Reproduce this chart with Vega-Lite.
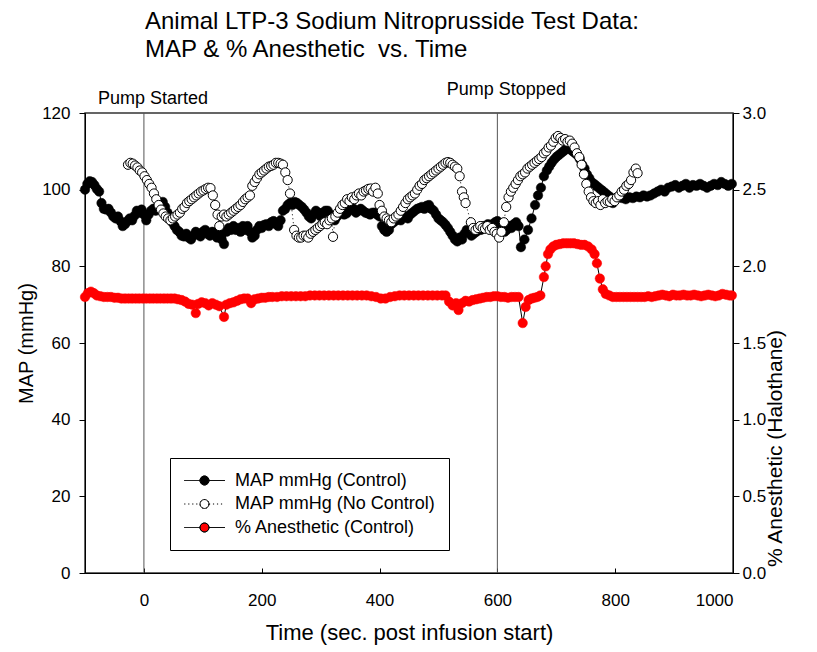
{
"$schema": "https://vega.github.io/schema/vega-lite/v6.json",
"width": 648, "height": 460,
"autosize": {"type": "none"},
"padding": {"left": 85, "top": 113, "right": 84, "bottom": 79},
"background": "white",
"title": {"text": ["Animal LTP-3 Sodium Nitroprusside Test Data:", "MAP & % Anesthetic\u00a0 vs. Time"], "anchor": "start", "frame": "group", "dx": 60, "offset": 19, "fontSize": 24, "font": "Liberation Sans", "fontWeight": "normal", "lineHeight": 28, "color": "black"},
"config": {
  "view": {"stroke": "#333", "strokeWidth": 1.5},
  "font": "Liberation Sans",
  "axis": {"labelFont": "Liberation Sans", "titleFont": "Liberation Sans", "labelFontSize": 17, "titleFontSize": 20, "titleFontWeight": "normal", "labelColor": "black", "titleColor": "black", "domainColor": "black", "tickColor": "black", "grid": false}
},
"datasets": {
"events": [{"t": 0, "v": 123.7, "label": "Pump Started"}, {"t": 600, "v": 126, "label": "Pump Stopped"}],
"legend": [{"series": "MAP mmHg (Control)"}, {"series": "MAP mmHg (No Control)"}, {"series": "% Anesthetic (Control)"}],
"ctrl": [
{"t":-100,"v":100.0},{"t":-96,"v":101.5},{"t":-92,"v":102.2},{"t":-88,"v":102.0},{"t":-84,"v":101.2},{"t":-80,"v":100.2},{"t":-76,"v":99.5},{"t":-72,"v":96.5},{"t":-68,"v":95.0},{"t":-64,"v":94.8},{"t":-60,"v":95.0},{"t":-56,"v":94.0},{"t":-52,"v":93.0},{"t":-48,"v":92.5},{"t":-44,"v":93.0},{"t":-40,"v":91.8},{"t":-36,"v":90.5},{"t":-32,"v":91.0},{"t":-28,"v":91.8},{"t":-24,"v":92.5},{"t":-20,"v":92.0},{"t":-16,"v":93.2},{"t":-12,"v":94.5},{"t":-8,"v":94.0},{"t":-4,"v":94.8},{"t":0,"v":93.5},{"t":4,"v":92.0},{"t":8,"v":93.5},{"t":12,"v":94.5},{"t":16,"v":95.0},{"t":20,"v":94.5},{"t":24,"v":95.5},{"t":28,"v":96.2},{"t":32,"v":96.8},{"t":36,"v":95.5},{"t":40,"v":94.0},{"t":44,"v":93.0},{"t":48,"v":91.5},{"t":52,"v":90.5},{"t":56,"v":89.5},{"t":60,"v":89.0},{"t":64,"v":88.0},{"t":68,"v":87.8},{"t":72,"v":88.5},{"t":76,"v":87.5},{"t":80,"v":87.0},{"t":84,"v":88.0},{"t":88,"v":89.0},{"t":92,"v":88.5},{"t":96,"v":87.8},{"t":100,"v":89.0},{"t":104,"v":89.5},{"t":108,"v":88.5},{"t":112,"v":88.0},{"t":116,"v":89.0},{"t":120,"v":88.8},{"t":124,"v":87.5},{"t":128,"v":88.5},{"t":132,"v":87.0},{"t":136,"v":85.8},{"t":140,"v":89.0},{"t":144,"v":90.0},{"t":148,"v":89.5},{"t":152,"v":90.5},{"t":156,"v":89.5},{"t":160,"v":90.0},{"t":164,"v":89.0},{"t":168,"v":90.5},{"t":172,"v":89.5},{"t":176,"v":90.5},{"t":180,"v":89.0},{"t":184,"v":87.5},{"t":188,"v":88.0},{"t":192,"v":89.5},{"t":196,"v":90.5},{"t":200,"v":90.0},{"t":204,"v":90.8},{"t":208,"v":91.0},{"t":212,"v":90.5},{"t":216,"v":91.5},{"t":220,"v":91.8},{"t":224,"v":91.0},{"t":228,"v":90.5},{"t":232,"v":92.0},{"t":236,"v":94.5},{"t":240,"v":95.0},{"t":244,"v":96.0},{"t":248,"v":96.5},{"t":252,"v":96.0},{"t":256,"v":96.8},{"t":260,"v":96.5},{"t":264,"v":96.0},{"t":268,"v":95.5},{"t":272,"v":94.8},{"t":276,"v":94.0},{"t":280,"v":93.0},{"t":284,"v":92.5},{"t":288,"v":93.5},{"t":292,"v":94.5},{"t":296,"v":94.0},{"t":300,"v":93.0},{"t":304,"v":94.0},{"t":308,"v":94.5},{"t":312,"v":94.5},{"t":316,"v":93.5},{"t":320,"v":92.5},{"t":324,"v":92.0},{"t":328,"v":93.0},{"t":332,"v":94.0},{"t":336,"v":94.5},{"t":340,"v":93.5},{"t":344,"v":93.8},{"t":348,"v":94.5},{"t":352,"v":95.0},{"t":356,"v":95.0},{"t":360,"v":94.0},{"t":364,"v":94.5},{"t":368,"v":95.0},{"t":372,"v":94.5},{"t":376,"v":94.0},{"t":380,"v":93.8},{"t":384,"v":93.5},{"t":388,"v":94.0},{"t":392,"v":94.0},{"t":396,"v":93.5},{"t":400,"v":93.0},{"t":404,"v":90.5},{"t":408,"v":89.5},{"t":412,"v":89.0},{"t":416,"v":89.5},{"t":420,"v":91.0},{"t":424,"v":91.5},{"t":428,"v":92.0},{"t":432,"v":92.5},{"t":436,"v":92.0},{"t":440,"v":93.0},{"t":444,"v":93.0},{"t":448,"v":92.5},{"t":452,"v":93.5},{"t":456,"v":94.0},{"t":460,"v":94.5},{"t":464,"v":95.0},{"t":468,"v":95.2},{"t":472,"v":95.5},{"t":476,"v":95.0},{"t":480,"v":95.8},{"t":484,"v":96.0},{"t":488,"v":95.0},{"t":492,"v":94.5},{"t":496,"v":93.5},{"t":500,"v":92.5},{"t":504,"v":92.0},{"t":508,"v":91.5},{"t":512,"v":90.8},{"t":516,"v":90.0},{"t":520,"v":89.0},{"t":524,"v":88.0},{"t":528,"v":87.0},{"t":532,"v":86.5},{"t":536,"v":87.5},{"t":540,"v":87.0},{"t":544,"v":88.5},{"t":548,"v":89.5},{"t":552,"v":89.0},{"t":556,"v":88.0},{"t":560,"v":88.5},{"t":564,"v":89.0},{"t":568,"v":90.0},{"t":572,"v":89.5},{"t":576,"v":90.5},{"t":580,"v":90.0},{"t":584,"v":91.0},{"t":588,"v":90.5},{"t":592,"v":91.0},{"t":596,"v":91.5},{"t":600,"v":91.8},{"t":604,"v":91.0},{"t":608,"v":90.0},{"t":612,"v":89.0},{"t":616,"v":89.5},{"t":620,"v":90.5},{"t":624,"v":90.0},{"t":628,"v":91.0},{"t":632,"v":91.5},{"t":636,"v":90.5},{"t":640,"v":85.0},{"t":646,"v":87.0},{"t":652,"v":89.5},{"t":658,"v":92.5},{"t":664,"v":96.0},{"t":669,"v":98.5},{"t":674,"v":100.5},{"t":679,"v":103.5},{"t":684,"v":105.0},{"t":688,"v":106.0},{"t":692,"v":107.0},{"t":696,"v":107.8},{"t":700,"v":108.5},{"t":704,"v":109.0},{"t":708,"v":109.5},{"t":712,"v":110.0},{"t":716,"v":110.5},{"t":720,"v":110.8},{"t":724,"v":110.5},{"t":728,"v":110.0},{"t":732,"v":109.5},{"t":736,"v":109.0},{"t":740,"v":108.0},{"t":744,"v":106.5},{"t":748,"v":105.5},{"t":752,"v":104.0},{"t":756,"v":103.0},{"t":760,"v":102.0},{"t":764,"v":101.5},{"t":768,"v":101.0},{"t":772,"v":100.5},{"t":776,"v":100.0},{"t":780,"v":99.5},{"t":784,"v":99.0},{"t":788,"v":98.5},{"t":792,"v":98.0},{"t":796,"v":96.5},{"t":800,"v":97.5},{"t":806,"v":98.0},{"t":812,"v":97.8},{"t":818,"v":97.5},{"t":824,"v":98.0},{"t":830,"v":97.8},{"t":836,"v":98.2},{"t":842,"v":98.0},{"t":848,"v":98.5},{"t":854,"v":98.2},{"t":860,"v":98.5},{"t":866,"v":99.0},{"t":872,"v":99.5},{"t":878,"v":100.0},{"t":884,"v":99.5},{"t":890,"v":100.5},{"t":896,"v":100.8},{"t":902,"v":101.2},{"t":908,"v":100.5},{"t":914,"v":101.0},{"t":920,"v":101.5},{"t":926,"v":100.5},{"t":932,"v":101.2},{"t":938,"v":101.0},{"t":944,"v":101.5},{"t":950,"v":101.0},{"t":956,"v":100.5},{"t":962,"v":101.0},{"t":968,"v":101.5},{"t":974,"v":101.2},{"t":980,"v":102.0},{"t":986,"v":101.5},{"t":992,"v":101.0},{"t":998,"v":101.5}
],
"noctrl": [
{"t":-27,"v":106.5},{"t":-23,"v":107.0},{"t":-19,"v":106.8},{"t":-15,"v":106.3},{"t":-11,"v":105.8},{"t":-7,"v":105.0},{"t":-3,"v":104.5},{"t":1,"v":103.5},{"t":5,"v":102.5},{"t":9,"v":101.5},{"t":13,"v":100.5},{"t":17,"v":99.0},{"t":21,"v":97.5},{"t":25,"v":96.0},{"t":29,"v":94.8},{"t":33,"v":93.8},{"t":37,"v":93.0},{"t":41,"v":92.5},{"t":45,"v":92.0},{"t":49,"v":92.5},{"t":53,"v":93.0},{"t":57,"v":93.5},{"t":61,"v":94.0},{"t":65,"v":95.0},{"t":69,"v":95.5},{"t":73,"v":96.5},{"t":77,"v":97.0},{"t":81,"v":97.5},{"t":85,"v":98.0},{"t":89,"v":98.5},{"t":93,"v":99.0},{"t":97,"v":99.5},{"t":101,"v":99.8},{"t":105,"v":100.2},{"t":109,"v":100.5},{"t":113,"v":100.4},{"t":117,"v":98.5},{"t":121,"v":96.0},{"t":125,"v":93.5},{"t":128,"v":90.5},{"t":132,"v":93.0},{"t":136,"v":93.5},{"t":140,"v":93.0},{"t":144,"v":93.5},{"t":148,"v":94.0},{"t":152,"v":94.5},{"t":156,"v":95.0},{"t":160,"v":95.5},{"t":164,"v":96.0},{"t":168,"v":96.8},{"t":172,"v":97.5},{"t":176,"v":98.0},{"t":180,"v":98.5},{"t":184,"v":101.0},{"t":188,"v":102.0},{"t":192,"v":103.0},{"t":196,"v":104.0},{"t":200,"v":104.5},{"t":204,"v":105.0},{"t":208,"v":105.5},{"t":212,"v":106.0},{"t":216,"v":106.2},{"t":220,"v":106.5},{"t":224,"v":107.0},{"t":228,"v":107.0},{"t":232,"v":106.8},{"t":236,"v":106.5},{"t":240,"v":104.5},{"t":244,"v":102.5},{"t":248,"v":99.0},{"t":255,"v":89.5},{"t":259,"v":88.0},{"t":263,"v":87.5},{"t":267,"v":87.5},{"t":271,"v":88.0},{"t":275,"v":88.0},{"t":279,"v":87.5},{"t":283,"v":88.5},{"t":287,"v":89.0},{"t":291,"v":89.5},{"t":295,"v":90.0},{"t":299,"v":90.5},{"t":303,"v":91.0},{"t":307,"v":91.5},{"t":311,"v":91.0},{"t":315,"v":92.0},{"t":319,"v":92.5},{"t":321,"v":87.7},{"t":325,"v":93.0},{"t":329,"v":94.0},{"t":333,"v":95.0},{"t":337,"v":96.0},{"t":341,"v":96.5},{"t":345,"v":97.5},{"t":349,"v":97.0},{"t":353,"v":98.0},{"t":357,"v":97.5},{"t":361,"v":98.5},{"t":365,"v":99.0},{"t":369,"v":98.5},{"t":373,"v":99.5},{"t":377,"v":99.8},{"t":381,"v":100.2},{"t":385,"v":100.3},{"t":389,"v":99.5},{"t":393,"v":100.5},{"t":397,"v":99.0},{"t":400,"v":96.0},{"t":404,"v":94.5},{"t":408,"v":93.0},{"t":412,"v":92.5},{"t":416,"v":92.0},{"t":420,"v":91.5},{"t":424,"v":92.5},{"t":428,"v":93.0},{"t":432,"v":93.5},{"t":436,"v":94.5},{"t":440,"v":95.5},{"t":444,"v":96.5},{"t":448,"v":97.5},{"t":452,"v":98.0},{"t":456,"v":98.5},{"t":460,"v":99.0},{"t":464,"v":100.0},{"t":468,"v":101.0},{"t":472,"v":101.5},{"t":476,"v":102.5},{"t":480,"v":103.0},{"t":484,"v":103.5},{"t":488,"v":104.0},{"t":492,"v":104.5},{"t":496,"v":105.0},{"t":500,"v":105.5},{"t":504,"v":106.0},{"t":508,"v":106.5},{"t":512,"v":107.0},{"t":516,"v":107.2},{"t":520,"v":107.0},{"t":524,"v":106.5},{"t":528,"v":106.0},{"t":532,"v":105.5},{"t":536,"v":103.5},{"t":540,"v":99.5},{"t":543,"v":98.0},{"t":546,"v":96.5},{"t":555,"v":91.5},{"t":559,"v":90.0},{"t":563,"v":89.5},{"t":567,"v":90.0},{"t":571,"v":90.5},{"t":575,"v":90.0},{"t":579,"v":89.8},{"t":583,"v":90.5},{"t":587,"v":89.5},{"t":591,"v":90.0},{"t":595,"v":89.0},{"t":599,"v":88.5},{"t":603,"v":87.5},{"t":607,"v":89.0},{"t":611,"v":91.5},{"t":615,"v":95.5},{"t":619,"v":98.0},{"t":623,"v":99.5},{"t":627,"v":100.5},{"t":631,"v":101.5},{"t":635,"v":102.5},{"t":639,"v":103.5},{"t":643,"v":104.0},{"t":647,"v":104.5},{"t":651,"v":105.5},{"t":655,"v":106.0},{"t":659,"v":106.5},{"t":663,"v":107.0},{"t":667,"v":107.5},{"t":671,"v":108.0},{"t":675,"v":108.5},{"t":679,"v":109.5},{"t":683,"v":110.0},{"t":687,"v":111.0},{"t":691,"v":111.5},{"t":695,"v":112.5},{"t":699,"v":113.5},{"t":703,"v":114.0},{"t":707,"v":113.5},{"t":711,"v":112.8},{"t":715,"v":113.2},{"t":719,"v":112.5},{"t":723,"v":112.8},{"t":727,"v":112.0},{"t":731,"v":111.0},{"t":735,"v":109.5},{"t":739,"v":108.5},{"t":743,"v":106.5},{"t":747,"v":104.0},{"t":751,"v":101.5},{"t":755,"v":99.5},{"t":759,"v":98.0},{"t":763,"v":97.0},{"t":767,"v":96.5},{"t":771,"v":97.0},{"t":775,"v":96.0},{"t":779,"v":97.5},{"t":783,"v":96.5},{"t":787,"v":97.0},{"t":791,"v":96.8},{"t":795,"v":97.5},{"t":799,"v":97.0},{"t":803,"v":98.0},{"t":807,"v":98.5},{"t":811,"v":99.5},{"t":815,"v":100.0},{"t":819,"v":101.0},{"t":823,"v":101.5},{"t":827,"v":102.5},{"t":831,"v":104.5},{"t":835,"v":105.5},{"t":838,"v":104.3}
],
"anes": [
{"t":-100,"v":1.80},{"t":-95,"v":1.825},{"t":-90,"v":1.835},{"t":-85,"v":1.825},{"t":-80,"v":1.81},{"t":-74,"v":1.805},{"t":-68,"v":1.80},{"t":-62,"v":1.80},{"t":-56,"v":1.80},{"t":-50,"v":1.795},{"t":-44,"v":1.795},{"t":-38,"v":1.79},{"t":-32,"v":1.79},{"t":-26,"v":1.79},{"t":-20,"v":1.79},{"t":-14,"v":1.79},{"t":-8,"v":1.79},{"t":-2,"v":1.79},{"t":4,"v":1.79},{"t":10,"v":1.79},{"t":16,"v":1.79},{"t":22,"v":1.79},{"t":28,"v":1.79},{"t":34,"v":1.79},{"t":40,"v":1.79},{"t":46,"v":1.79},{"t":52,"v":1.79},{"t":58,"v":1.785},{"t":64,"v":1.78},{"t":70,"v":1.77},{"t":76,"v":1.755},{"t":82,"v":1.75},{"t":88,"v":1.695},{"t":92,"v":1.755},{"t":98,"v":1.765},{"t":104,"v":1.76},{"t":110,"v":1.745},{"t":116,"v":1.76},{"t":122,"v":1.75},{"t":128,"v":1.74},{"t":136,"v":1.67},{"t":140,"v":1.75},{"t":146,"v":1.76},{"t":152,"v":1.765},{"t":158,"v":1.775},{"t":164,"v":1.785},{"t":170,"v":1.79},{"t":176,"v":1.79},{"t":182,"v":1.76},{"t":188,"v":1.785},{"t":194,"v":1.79},{"t":200,"v":1.795},{"t":206,"v":1.795},{"t":212,"v":1.80},{"t":218,"v":1.80},{"t":226,"v":1.80},{"t":234,"v":1.805},{"t":242,"v":1.805},{"t":250,"v":1.805},{"t":258,"v":1.805},{"t":266,"v":1.805},{"t":274,"v":1.805},{"t":282,"v":1.81},{"t":290,"v":1.81},{"t":298,"v":1.81},{"t":306,"v":1.81},{"t":314,"v":1.81},{"t":322,"v":1.81},{"t":330,"v":1.81},{"t":338,"v":1.81},{"t":346,"v":1.81},{"t":354,"v":1.81},{"t":362,"v":1.81},{"t":370,"v":1.81},{"t":378,"v":1.81},{"t":386,"v":1.805},{"t":394,"v":1.80},{"t":402,"v":1.79},{"t":410,"v":1.79},{"t":418,"v":1.80},{"t":426,"v":1.805},{"t":434,"v":1.81},{"t":442,"v":1.81},{"t":450,"v":1.81},{"t":458,"v":1.81},{"t":466,"v":1.81},{"t":474,"v":1.81},{"t":482,"v":1.81},{"t":490,"v":1.81},{"t":498,"v":1.81},{"t":506,"v":1.81},{"t":512,"v":1.81},{"t":518,"v":1.77},{"t":524,"v":1.745},{"t":530,"v":1.76},{"t":534,"v":1.715},{"t":540,"v":1.76},{"t":546,"v":1.775},{"t":552,"v":1.77},{"t":558,"v":1.78},{"t":564,"v":1.785},{"t":570,"v":1.79},{"t":576,"v":1.795},{"t":582,"v":1.80},{"t":588,"v":1.80},{"t":594,"v":1.805},{"t":600,"v":1.805},{"t":606,"v":1.80},{"t":612,"v":1.80},{"t":618,"v":1.795},{"t":624,"v":1.80},{"t":630,"v":1.80},{"t":636,"v":1.80},{"t":643,"v":1.63},{"t":648,"v":1.735},{"t":653,"v":1.78},{"t":658,"v":1.79},{"t":663,"v":1.795},{"t":668,"v":1.80},{"t":673,"v":1.81},{"t":679,"v":1.93},{"t":682,"v":2.00},{"t":686,"v":2.08},{"t":690,"v":2.11},{"t":695,"v":2.13},{"t":700,"v":2.14},{"t":706,"v":2.145},{"t":712,"v":2.15},{"t":718,"v":2.15},{"t":724,"v":2.15},{"t":730,"v":2.15},{"t":736,"v":2.145},{"t":742,"v":2.14},{"t":748,"v":2.14},{"t":754,"v":2.13},{"t":760,"v":2.11},{"t":765,"v":2.08},{"t":769,"v":2.02},{"t":774,"v":1.92},{"t":779,"v":1.85},{"t":784,"v":1.82},{"t":790,"v":1.81},{"t":796,"v":1.80},{"t":802,"v":1.80},{"t":808,"v":1.80},{"t":814,"v":1.80},{"t":820,"v":1.80},{"t":826,"v":1.80},{"t":832,"v":1.80},{"t":838,"v":1.80},{"t":844,"v":1.80},{"t":850,"v":1.80},{"t":856,"v":1.805},{"t":862,"v":1.80},{"t":868,"v":1.805},{"t":874,"v":1.81},{"t":880,"v":1.815},{"t":886,"v":1.81},{"t":892,"v":1.805},{"t":898,"v":1.815},{"t":904,"v":1.81},{"t":910,"v":1.81},{"t":916,"v":1.815},{"t":922,"v":1.81},{"t":928,"v":1.81},{"t":934,"v":1.815},{"t":940,"v":1.81},{"t":946,"v":1.805},{"t":952,"v":1.81},{"t":958,"v":1.815},{"t":964,"v":1.81},{"t":970,"v":1.805},{"t":976,"v":1.81},{"t":982,"v":1.82},{"t":988,"v":1.815},{"t":994,"v":1.81},{"t":998,"v":1.81}
]
},
"layer": [
{
  "encoding": {"x": {"field": "t", "type": "quantitative", "scale": {"domain": [-100, 1000], "nice": false, "zero": false}, "axis": {"title": "Time (sec. post infusion start)", "values": [0, 200, 400, 600, 800, 1000], "format": "d", "tickSize": -5, "labelPadding": 24, "titlePadding": 14, "titleFontSize": 22}}},
  "layer": [
    {"data": {"name": "events"}, "mark": {"type": "rule", "color": "#555", "strokeWidth": 1}},
    {
      "encoding": {"y": {"field": "v", "type": "quantitative", "scale": {"domain": [0, 120], "nice": false, "zero": false}, "axis": {"title": "MAP (mmHg)", "values": [0, 20, 40, 60, 80, 100, 120], "tickSize": 6, "labelPadding": 9, "titlePadding": 5}}},
      "layer": [
        {"data": {"name": "ctrl"}, "mark": {"type": "line", "color": "black", "strokeWidth": 1}},
        {"data": {"name": "ctrl"}, "mark": {"type": "point", "filled": true, "fill": "black", "stroke": "black", "strokeWidth": 0.5, "size": 90, "opacity": 1}},
        {"data": {"name": "noctrl"}, "mark": {"type": "line", "color": "black", "strokeWidth": 1, "strokeDash": [1, 3]}},
        {"data": {"name": "noctrl"}, "mark": {"type": "point", "filled": true, "fill": "white", "stroke": "black", "strokeWidth": 1, "size": 85, "opacity": 1}},
        {"data": {"name": "events"}, "mark": {"type": "text", "font": "Liberation Sans", "fontSize": 18, "align": "center", "baseline": "middle", "dx": 9, "color": "black"}, "encoding": {"text": {"field": "label"}}}
      ]
    },
    {
      "data": {"name": "legend"},
      "transform": [{"filter": "false"}],
      "mark": {"type": "point", "filled": true, "strokeWidth": 1, "opacity": 1},
      "encoding": {
        "fill": {"field": "series", "type": "nominal",
          "scale": {"domain": ["MAP mmHg (Control)", "MAP mmHg (No Control)", "% Anesthetic (Control)"], "range": ["black", "white", "red"]},
          "legend": {"title": null, "orient": "none", "legendX": 85, "legendY": 345, "strokeColor": "black", "fillColor": "white", "padding": 13, "symbolSize": 306, "labelFontSize": 18, "labelFont": "Liberation Sans", "labelColor": "black", "labelOffset": 33, "rowPadding": 4.5, "labelLimit": 0, "symbolStrokeWidth": 1, "symbolOpacity": 1,
            "symbolType": "M-0.95,0L-0.493,0M-0.493,0L-0.036,0M-0.036,0L0.421,0M0.421,0L0.878,0M1.88,0L2.337,0M2.337,0L2.794,0M2.794,0L3.251,0M3.251,0L3.708,0M1.88,0A0.51,0.51,0,1,1,0.86,0A0.51,0.51,0,1,1,1.88,0ZM1.88,0L1.863,0.132M1.863,0.132L1.812,0.255M1.812,0.255L1.731,0.361M1.731,0.361L1.625,0.442M1.625,0.442L1.502,0.493M1.502,0.493L1.37,0.51M1.37,0.51L1.238,0.493M1.238,0.493L1.115,0.442M1.115,0.442L1.009,0.361M1.009,0.361L0.928,0.255M0.928,0.255L0.877,0.132M0.877,0.132L0.86,0M0.86,0L0.877,-0.132M0.877,-0.132L0.928,-0.255M0.928,-0.255L1.009,-0.361M1.009,-0.361L1.115,-0.442M1.115,-0.442L1.238,-0.493M1.238,-0.493L1.37,-0.51M1.37,-0.51L1.502,-0.493M1.502,-0.493L1.625,-0.442M1.625,-0.442L1.731,-0.361M1.731,-0.361L1.812,-0.255M1.812,-0.255L1.863,-0.132M1.863,-0.132L1.88,0"}},
        "stroke": {"field": "series", "type": "nominal",
          "scale": {"domain": ["MAP mmHg (Control)", "MAP mmHg (No Control)", "% Anesthetic (Control)"], "range": ["black", "black", "black"]},
          "legend": {"title": null, "orient": "none", "legendX": 85, "legendY": 345, "strokeColor": "black", "fillColor": "white", "padding": 13, "symbolSize": 306, "labelFontSize": 18, "labelFont": "Liberation Sans", "labelColor": "black", "labelOffset": 33, "rowPadding": 4.5, "labelLimit": 0, "symbolStrokeWidth": 1, "symbolOpacity": 1,
            "symbolType": "M-0.95,0L-0.493,0M-0.493,0L-0.036,0M-0.036,0L0.421,0M0.421,0L0.878,0M1.88,0L2.337,0M2.337,0L2.794,0M2.794,0L3.251,0M3.251,0L3.708,0M1.88,0A0.51,0.51,0,1,1,0.86,0A0.51,0.51,0,1,1,1.88,0ZM1.88,0L1.863,0.132M1.863,0.132L1.812,0.255M1.812,0.255L1.731,0.361M1.731,0.361L1.625,0.442M1.625,0.442L1.502,0.493M1.502,0.493L1.37,0.51M1.37,0.51L1.238,0.493M1.238,0.493L1.115,0.442M1.115,0.442L1.009,0.361M1.009,0.361L0.928,0.255M0.928,0.255L0.877,0.132M0.877,0.132L0.86,0M0.86,0L0.877,-0.132M0.877,-0.132L0.928,-0.255M0.928,-0.255L1.009,-0.361M1.009,-0.361L1.115,-0.442M1.115,-0.442L1.238,-0.493M1.238,-0.493L1.37,-0.51M1.37,-0.51L1.502,-0.493M1.502,-0.493L1.625,-0.442M1.625,-0.442L1.731,-0.361M1.731,-0.361L1.812,-0.255M1.812,-0.255L1.863,-0.132M1.863,-0.132L1.88,0"}},
        "strokeDash": {"field": "series", "type": "nominal",
          "scale": {"domain": ["MAP mmHg (Control)", "MAP mmHg (No Control)", "% Anesthetic (Control)"], "range": [[1, 0], [1.2, 2.8], [1, 0]]},
          "legend": {"title": null, "orient": "none", "legendX": 85, "legendY": 345, "strokeColor": "black", "fillColor": "white", "padding": 13, "symbolSize": 306, "labelFontSize": 18, "labelFont": "Liberation Sans", "labelColor": "black", "labelOffset": 33, "rowPadding": 4.5, "labelLimit": 0, "symbolStrokeWidth": 1, "symbolOpacity": 1,
            "symbolType": "M-0.95,0L-0.493,0M-0.493,0L-0.036,0M-0.036,0L0.421,0M0.421,0L0.878,0M1.88,0L2.337,0M2.337,0L2.794,0M2.794,0L3.251,0M3.251,0L3.708,0M1.88,0A0.51,0.51,0,1,1,0.86,0A0.51,0.51,0,1,1,1.88,0ZM1.88,0L1.863,0.132M1.863,0.132L1.812,0.255M1.812,0.255L1.731,0.361M1.731,0.361L1.625,0.442M1.625,0.442L1.502,0.493M1.502,0.493L1.37,0.51M1.37,0.51L1.238,0.493M1.238,0.493L1.115,0.442M1.115,0.442L1.009,0.361M1.009,0.361L0.928,0.255M0.928,0.255L0.877,0.132M0.877,0.132L0.86,0M0.86,0L0.877,-0.132M0.877,-0.132L0.928,-0.255M0.928,-0.255L1.009,-0.361M1.009,-0.361L1.115,-0.442M1.115,-0.442L1.238,-0.493M1.238,-0.493L1.37,-0.51M1.37,-0.51L1.502,-0.493M1.502,-0.493L1.625,-0.442M1.625,-0.442L1.731,-0.361M1.731,-0.361L1.812,-0.255M1.812,-0.255L1.863,-0.132M1.863,-0.132L1.88,0"}}
      }
    }
  ]
},
{
  "encoding": {
    "x": {"field": "t", "type": "quantitative", "scale": {"domain": [-100, 1000], "nice": false, "zero": false}, "axis": {"title": "Time (sec. post infusion start)", "values": [0, 200, 400, 600, 800, 1000], "format": "d", "tickSize": -5, "labelPadding": 24, "titlePadding": 14, "titleFontSize": 22}},
    "y": {"field": "v", "type": "quantitative", "scale": {"domain": [0, 3], "nice": false, "zero": false}, "axis": {"orient": "right", "title": "% Anesthetic (Halothane)", "values": [0, 0.5, 1, 1.5, 2, 2.5, 3], "format": ".1f", "tickSize": 6, "labelPadding": 3, "titlePadding": 20, "titleAngle": 270, "titleFontSize": 21, "titleY": 335}}
  },
  "layer": [
    {"data": {"name": "anes"}, "mark": {"type": "line", "color": "black", "strokeWidth": 1}},
    {"data": {"name": "anes"}, "mark": {"type": "point", "filled": true, "fill": "red", "stroke": "red", "strokeWidth": 0.5, "size": 90, "opacity": 1}}
  ]
}
],
"resolve": {"scale": {"y": "independent"}, "axis": {"y": "independent"}}
}
